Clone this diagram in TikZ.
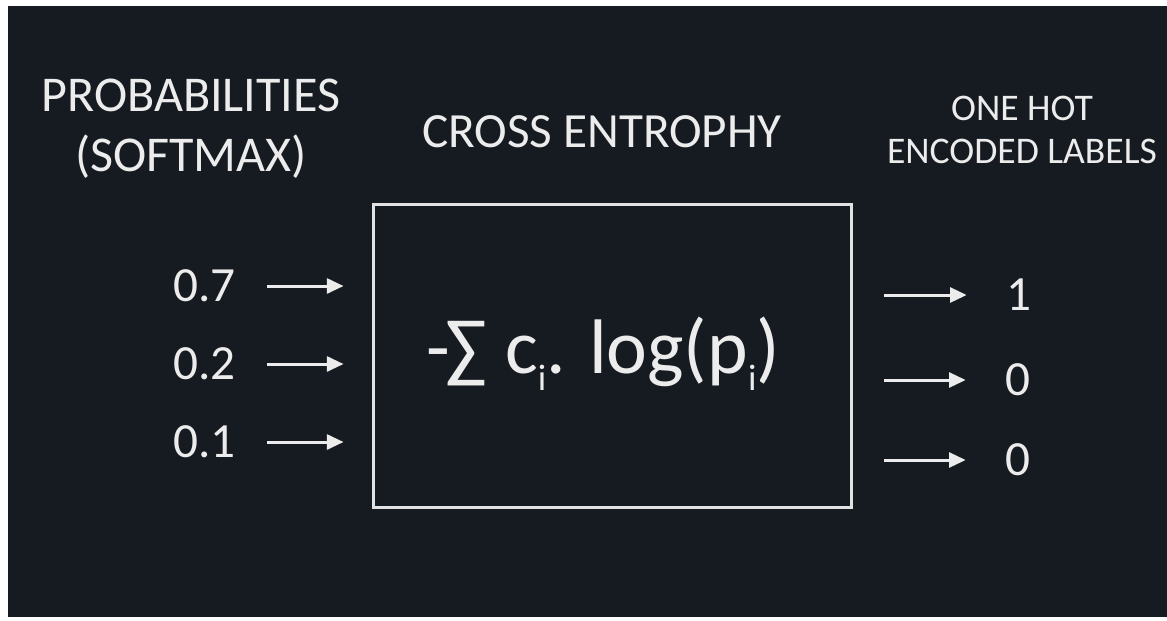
\documentclass[tikz,border=0pt]{standalone}
\usepackage{fontspec}
\setmainfont{Carlito}
\usetikzlibrary{arrows.meta}
\definecolor{CEBack}{HTML}{161B22}
\definecolor{CEText}{HTML}{ECECEC}
\definecolor{CELine}{HTML}{E2E2E2}
\newcommand{\ceSub}[1]{\raisebox{-0.22em}{\fontsize{21}{21}\selectfont #1}}
\tikzset{
  ceArrow/.style={CEText, line width=1.7pt, -{Triangle[length=9.5pt,width=8.5pt]}},
  ceNum/.style={CEText, inner sep=0pt, font=\fontsize{28}{32}\selectfont},
  ceHead/.style={CEText, align=center},
}
\begin{document}
\begin{tikzpicture}[x=0.02cm,y=-0.02cm]
\path[use as bounding box] (0,0) rectangle (1167,620);
\fill[white] (0,0) rectangle (1167,620);
\fill[CEBack] (8,6) rectangle (1167,617);
% headings
\node[ceHead,font=\fontsize{28.5}{34}\selectfont] (probs) at (191,129) {PROBABILITIES\\(SOFTMAX)};
\node[CEText,anchor=base,font=\fontsize{28}{32}\selectfont] (xent) at (602,147) {CROSS ENTROPHY};
\node[ceHead,font=\fontsize{21.4}{24.4}\selectfont] (onehot) at (1022,130) {ONE HOT\\ENCODED LABELS};
% loss box
\node[draw=CELine,line width=1.7pt,minimum width=9.58cm,minimum height=6.08cm] (box) at (612.5,356) {};
\node[CEText,anchor=base,font=\fontsize{44}{48}\selectfont] (loss) at (603,373) {-\kern-0.05em∑ c\ceSub{i}. log(p\ceSub{i})};
% softmax inputs
\node[ceNum,anchor=west] (inA) at (173,286) {0.7};
\node[ceNum,anchor=west] (inB) at (173,364) {0.2};
\node[ceNum,anchor=west] (inC) at (173,442) {0.1};
\draw[ceArrow,shorten <=0.62cm,shorten >=0.56cm] (inA.east) -- (inA.east -| box.west);
\draw[ceArrow,shorten <=0.62cm,shorten >=0.56cm] (inB.east) -- (inB.east -| box.west);
\draw[ceArrow,shorten <=0.62cm,shorten >=0.56cm] (inC.east) -- (inC.east -| box.west);
% one hot labels
\node[ceNum] (outA) at (1019,295) {1};
\node[ceNum] (outB) at (1018,380) {0};
\node[ceNum] (outC) at (1018,460) {0};
\draw[ceArrow,shorten <=0.62cm,shorten >=0.79cm] (box.east |- outA) -- (outA.west);
\draw[ceArrow,shorten <=0.62cm,shorten >=0.79cm] (box.east |- outB) -- (outB.west);
\draw[ceArrow,shorten <=0.62cm,shorten >=0.79cm] (box.east |- outC) -- (outC.west);
\end{tikzpicture}
\end{document}
